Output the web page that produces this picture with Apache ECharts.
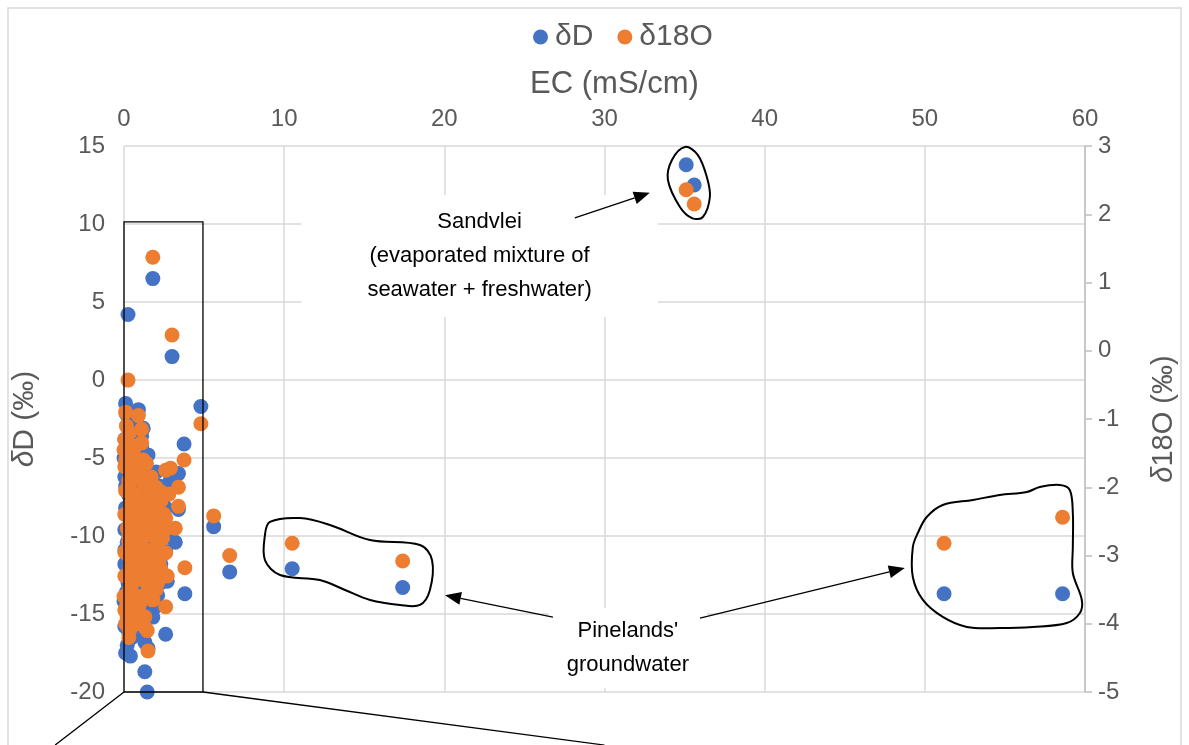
<!DOCTYPE html>
<html>
<head>
<meta charset="utf-8">
<script src="https://cdn.jsdelivr.net/npm/echarts@6/dist/echarts.min.js"></script>
<style>
html, body { margin: 0; padding: 0; background: #fff; }
#chart { width: 1189px; height: 745px; }
</style>
</head>
<body>
<div id="chart"></div>
<script>
// one entry per water sample: EC (mS/cm), deltaD (permil), delta18O (permil)
var ec = [
  35.1, 35.6, 10.5, 17.4, 51.2, 58.6, 6.6, 5.6, 4.8, 3.75, 1.8, 3.0, 0.25, 3.8, 3.2, 3.4, 3.4, 2.7, 2.6, 2.6, 1.5, 1.3, 1.45, 0.4,
  0.1, 0.15, 0.9, 0.35, 0.05, 1.1, 1.1, 0.6, 0.2, 0.8, 1.4, 0.05, 0.5, 1.0, 1.7, 0.3, 1.25, 2.0, 0.1, 0.7,
  1.5, 2.3, 0.4, 1.0, 1.8, 0.05, 0.6, 1.3, 2.1, 0.2, 0.9, 1.6, 2.4, 0.3, 1.1, 1.9, 0.05, 0.7, 1.4, 2.2,
  0.4, 1.0, 1.7, 0.15, 0.8, 1.5, 2.0, 0.3, 1.2, 0.6, 1.8, 0.05, 1.0, 0.5, 1.3, 0.2, 0.1, 0.8,
  2.5, 2.6, 1.2, 0.6, 1.6, 0.9, 1.9, 0.25, 1.4, 2.3, 0.0, 0.45, 1.05, 1.55, 0.7, 2.1, 1.2, 0.35, 2.2, 2.6, 0.0, 2.9,
  0.2, 0.5, 0.9, 1.3, 1.7, 0.3, 0.8, 1.2, 1.6, 0.4, 1.0, 0.15, 0.6, 1.4, 2.0, 2.2, 2.4, 2.5, 0.7, 1.5,
  2.0, 0.25, 1.1, 0.55, 1.75, 0.35, 1.0, 0.05, 1.9, 2.7, 0.85, 1.35, 0.45, 2.3, 1.65, 0.1, 2.8, 0.65, 1.2, 0.3
];
var deltaD = [
  13.8, 12.5, -12.1, -13.3, -13.7, -13.7, -12.3, -9.4, -1.7, -4.1, 6.5, 1.5, 4.2, -13.7, -10.4, -6.0, -8.3, -12.9, -16.3, -11.0, -17.2, -18.7, -20.0, -17.7,
  -1.5, -2.2, -1.9, -3.0, -3.8, -3.6, -4.3, -4.6, -5.2, -5.5, -5.9, -6.2, -6.6, -6.9, -7.1, -7.4, -7.7, -7.9, -8.2, -8.4,
  -8.6, -8.8, -9.0, -9.2, -9.4, -9.6, -9.8, -10.0, -10.2, -10.4, -10.6, -10.8, -11.0, -11.2, -11.4, -11.6, -11.8, -12.0, -12.2, -12.5,
  -12.8, -13.0, -13.3, -13.6, -13.9, -14.2, -14.5, -14.8, -15.1, -15.4, -15.2, -15.8, -16.1, -16.5, -16.8, -17.0, -17.5, -16.0,
  -9.6, -7.4, -5.0, -7.0, -9.0, -11.0, -12.8, -13.0, -13.8, -11.8, -14.2, -8.0, -10.0, -11.5, -12.6, -13.8, -14.6, -15.6, -6.8, -8.2, -5.0, -6.4,
  -4.0, -5.6, -6.0, -6.5, -8.0, -8.8, -9.5, -10.5, -11.8, -12.2, -12.9, -13.8, -14.4, -15.0, -10.8, -9.4, -8.0, -11.0, -3.4, -4.8,
  -5.9, -6.0, -8.0, -10.9, -12.0, -15.0, -14.0, -10.9, -7.3, -10.0, -7.6, -9.6, -11.6, -13.0, -13.5, -6.8, -7.0, -2.6, -3.1, -16.2
];
var delta18O = [
  2.36, 2.15, -2.82, -3.08, -2.82, -2.44, -3.0, -2.42, -1.07, -1.6, 1.37, 0.23, -0.43, -3.18, -2.6, -2.0, -2.28, -3.3, -3.75, -2.96, -4.4, -3.9, -4.1, -4.0,
  -0.9, -1.1, -0.95, -1.2, -1.3, -1.15, -1.35, -1.45, -1.55, -1.6, -1.65, -1.7, -1.75, -1.8, -1.85, -1.9, -1.95, -2.0, -2.05, -2.1,
  -2.15, -2.2, -2.25, -2.3, -2.35, -2.4, -2.45, -2.5, -2.55, -2.6, -2.65, -2.7, -2.75, -2.8, -2.85, -2.9, -2.95, -3.0, -3.05, -3.1,
  -3.15, -3.2, -3.25, -3.3, -3.35, -3.45, -3.5, -3.55, -3.6, -3.7, -3.65, -3.8, -3.85, -3.95, -4.05, -3.9, -4.0, -4.0,
  -2.1, -1.75, -1.9, -2.3, -2.6, -3.1, -2.9, -3.0, -3.2, -2.6, -3.6, -2.5, -2.8, -2.3, -2.7, -3.4, -3.9, -3.5, -2.05, -2.45, -1.45, -1.72,
  -1.5, -1.9, -2.2, -2.4, -2.5, -2.7, -2.9, -3.1, -3.3, -3.5, -3.6, -3.75, -3.85, -3.3, -3.0, -2.8, -2.6, -2.4, -1.7, -2.0,
  -2.2, -2.0, -2.7, -3.2, -3.4, -4.1, -3.7, -3.3, -2.3, -2.6, -2.55, -3.0, -3.45, -3.2, -3.55, -1.6, -2.1, -1.4, -1.6, -4.2
];

// annotation outlines, in (EC, deltaD) coordinates
var zoomBox = [[0, 10.13], [4.93, -20]];
var zoomLeaders = [[[0, -20], [-4.3, -23.4]], [[4.93, -20], [30.0, -23.4]]];
var sandvleiOutline = [
  [35.02, 14.94], [35.83, 14.42], [36.39, 13.01], [36.58, 11.73], [36.14, 10.45],
  [35.46, 10.38], [34.71, 11.09], [33.96, 12.82], [34.21, 14.10]
];
var pinelandsOutlineA = [
  [9.11, -9.10], [10.99, -8.85], [12.86, -9.29], [15.36, -10.26], [18.48, -10.58], [19.23, -11.54],
  [19.10, -13.46], [18.48, -14.42], [17.23, -14.42], [15.36, -14.10], [13.80, -13.46], [12.23, -12.82],
  [9.74, -12.50], [8.80, -11.54], [8.80, -9.94]
];
var pinelandsOutlineB = [
  [50.12, -8.78], [51.12, -8.01], [53.00, -7.69], [54.68, -7.37], [56.37, -7.18], [57.18, -6.86],
  [58.43, -6.73], [59.05, -7.05], [59.24, -8.53], [59.24, -10.71], [59.24, -12.37], [59.80, -14.10],
  [59.68, -14.94], [58.86, -15.58], [56.74, -15.83], [54.68, -15.90], [52.62, -15.83], [51.12, -15.19],
  [49.88, -14.10], [49.25, -12.63], [49.25, -10.71], [49.56, -9.81]
];
var sandvleiLabel = { at: [22.2, 7.95], text: 'Sandvlei\n(evaporated mixture of\nseawater + freshwater)', pad: [10, 66, 10, 66] };
var pinelandsLabel = { at: [31.46, -17.2], text: "Pinelands'\ngroundwater", pad: [6, 18, 6, 18] };
var arrows = [
  [[28.15, 10.4], [32.83, 12.0]],
  [[26.78, -15.2], [20.04, -13.8]],
  [[35.96, -15.26], [48.75, -12.05]]
];

var FONT = "'Liberation Sans', Arial, sans-serif";
var TEXT = '#595959';

var chart = echarts.init(document.getElementById('chart'));

var option = {
  animation: false,
  textStyle: { fontFamily: FONT },
  legend: {
    top: 17,
    left: 528,
    itemGap: 24,
    icon: 'circle',
    itemWidth: 15,
    itemHeight: 15,
    textStyle: { color: TEXT, fontSize: 30, fontFamily: FONT, padding: [0, 0, 0, 2] },
    data: ['δD', 'δ18O']
  },
  grid: { left: 124, right: 104, top: 146, bottom: 53, containLabel: false },
  xAxis: {
    type: 'value',
    position: 'top',
    min: 0, max: 60, interval: 10,
    name: 'EC (mS/cm)',
    nameLocation: 'middle',
    nameGap: 46,
    nameTextStyle: { color: TEXT, fontSize: 31, fontFamily: FONT, padding: [0, 0, 0, 20] },
    axisLine: { show: false },
    axisTick: { show: false },
    axisLabel: { color: TEXT, fontSize: 24, margin: 15, fontFamily: FONT },
    splitLine: { show: true, lineStyle: { color: '#D9D9D9', width: 1.5 } }
  },
  yAxis: [
    {
      type: 'value',
      position: 'left',
      min: -20, max: 15, interval: 5,
      name: '{i|δ}D (‰)',
      nameLocation: 'middle',
      nameRotate: 90,
      nameGap: 84,
      nameTextStyle: {
        color: TEXT, fontSize: 30, fontFamily: FONT,
        rich: { i: { fontStyle: 'italic', fontSize: 30, color: TEXT, fontFamily: FONT } }
      },
      axisLine: { show: false },
      axisTick: { show: false },
      axisLabel: { color: TEXT, fontSize: 24, margin: 19, fontFamily: FONT },
      splitLine: { show: true, lineStyle: { color: '#D9D9D9', width: 1.5 } }
    },
    {
      type: 'value',
      position: 'right',
      min: -5, max: 3, interval: 1,
      name: '{i|δ}18O (‰)',
      nameLocation: 'middle',
      nameRotate: 90,
      nameGap: 64,
      nameTextStyle: {
        color: TEXT, fontSize: 29, fontFamily: FONT,
        rich: { i: { fontStyle: 'italic', fontSize: 29, color: TEXT, fontFamily: FONT } }
      },
      axisLine: { show: true, lineStyle: { color: '#BFBFBF', width: 1.5 } },
      axisTick: { show: true, inside: false, length: 7, lineStyle: { color: '#BFBFBF', width: 1.5 } },
      axisLabel: { color: TEXT, fontSize: 24, margin: 13, fontFamily: FONT },
      splitLine: { show: false }
    }
  ],
  series: [
    {
      name: 'δD',
      type: 'scatter',
      yAxisIndex: 0,
      symbolSize: 15,
      itemStyle: { color: '#4472C4', opacity: 1 },
      data: ec.map(function (x, i) { return [x, deltaD[i]]; })
    },
    {
      name: 'δ18O',
      type: 'scatter',
      yAxisIndex: 1,
      symbolSize: 15,
      itemStyle: { color: '#ED7D31', opacity: 1 },
      data: ec.map(function (x, i) { return [x, delta18O[i]]; })
    }
  ]
};

chart.setOption(option);

// annotations are placed through the left axis / x axis scales
function px(p) {
  return chart.convertToPixel({ xAxisIndex: 0, yAxisIndex: 0 }, p);
}

function outline(points) {
  return {
    type: 'polygon',
    z: 100,
    shape: { points: points.map(px), smooth: 0.35 },
    style: { fill: 'none', stroke: '#000', lineWidth: 2 }
  };
}

function arrow(pair) {
  var a = px(pair[0]);
  var b = px(pair[1]);
  var dx = b[0] - a[0], dy = b[1] - a[1];
  var len = Math.sqrt(dx * dx + dy * dy);
  var ux = dx / len, uy = dy / len;
  var head = 16, half = 6.5;
  var base = [b[0] - ux * head, b[1] - uy * head];
  return [
    {
      type: 'line', z: 110,
      shape: { x1: a[0], y1: a[1], x2: base[0], y2: base[1] },
      style: { stroke: '#000', lineWidth: 1.3 }
    },
    {
      type: 'polygon', z: 110,
      shape: { points: [b, [base[0] - uy * half, base[1] + ux * half], [base[0] + uy * half, base[1] - ux * half]] },
      style: { fill: '#000' }
    }
  ];
}

function label(l) {
  var c = px(l.at);
  return {
    type: 'text', z: 105,
    x: c[0], y: c[1],
    style: {
      text: l.text,
      fill: '#000',
      font: '22px ' + FONT,
      align: 'center',
      verticalAlign: 'middle',
      lineHeight: 34,
      backgroundColor: '#fff',
      padding: l.pad
    }
  };
}

var b0 = px(zoomBox[0]), b1 = px(zoomBox[1]);
var graphics = [
  {
    type: 'rect', z: 1, silent: true,
    shape: { x: 8, y: 8, width: 1173, height: 760 },
    style: { fill: 'none', stroke: '#D9D9D9', lineWidth: 1.5 }
  },
  {
    type: 'rect', z: 100,
    shape: { x: b0[0], y: b0[1], width: b1[0] - b0[0], height: b1[1] - b0[1] },
    style: { fill: 'none', stroke: '#000', lineWidth: 1.3 }
  },
  outline(sandvleiOutline),
  outline(pinelandsOutlineA),
  outline(pinelandsOutlineB),
  label(sandvleiLabel),
  label(pinelandsLabel)
];
zoomLeaders.forEach(function (seg) {
  var p = px(seg[0]), q = px(seg[1]);
  graphics.push({
    type: 'line', z: 100,
    shape: { x1: p[0], y1: p[1], x2: q[0], y2: q[1] },
    style: { stroke: '#000', lineWidth: 1.3 }
  });
});
arrows.forEach(function (pair) {
  graphics = graphics.concat(arrow(pair));
});

chart.setOption({ graphic: graphics });
</script>
</body>
</html>
